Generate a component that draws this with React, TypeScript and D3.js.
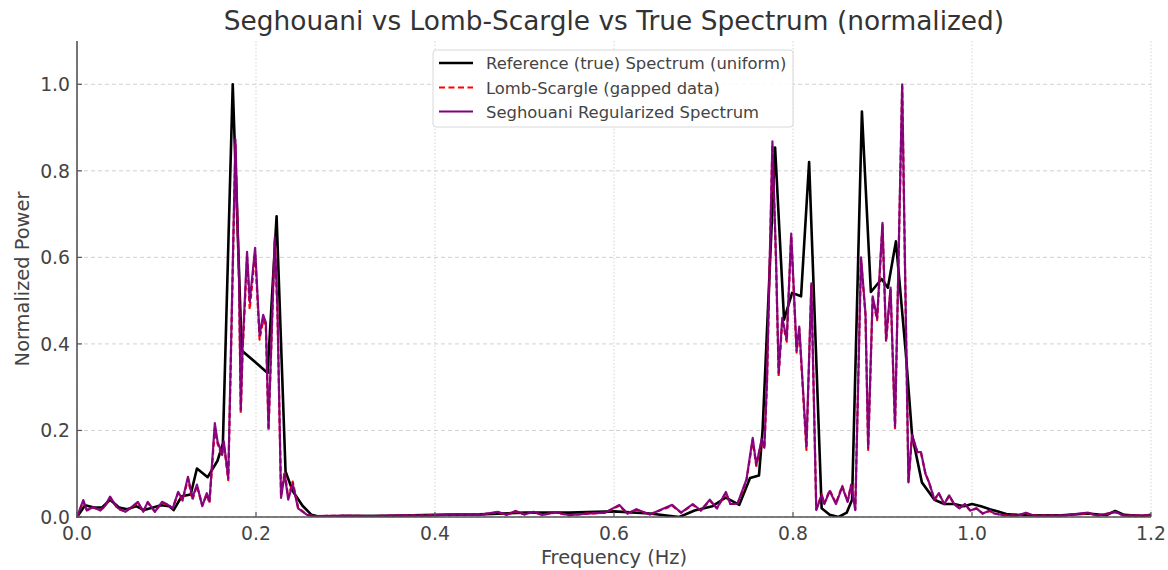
import React from "react";
import * as d3 from "d3";

// ---- data ----
const refFreqs = [0, 0.009, 0.019, 0.028, 0.037, 0.047, 0.056, 0.066, 0.075, 0.085, 0.094, 0.103, 0.108, 0.117, 0.127, 0.134, 0.146, 0.157, 0.163, 0.174, 0.184, 0.213, 0.223, 0.233, 0.241, 0.252, 0.262, 0.272, 0.30, 0.35, 0.40, 0.45, 0.50, 0.55, 0.60, 0.64, 0.673, 0.69, 0.71, 0.725, 0.74, 0.752, 0.762, 0.766, 0.780, 0.790, 0.799, 0.809, 0.818, 0.832, 0.841, 0.851, 0.860, 0.866, 0.877, 0.887, 0.899, 0.906, 0.915, 0.926, 0.933, 0.944, 0.958, 0.969, 0.980, 0.991, 1.000, 1.010, 1.020, 1.030, 1.040, 1.060, 1.080, 1.100, 1.130, 1.150, 1.160, 1.170, 1.190, 1.200];
const refValues = [0, 0.027, 0.022, 0.022, 0.040, 0.022, 0.018, 0.025, 0.016, 0.022, 0.027, 0.025, 0.016, 0.048, 0.052, 0.112, 0.092, 0.130, 0.170, 1.000, 0.385, 0.333, 0.695, 0.105, 0.060, 0.026, 0.005, 0.000, 0.002, 0.003, 0.005, 0.006, 0.010, 0.010, 0.013, 0.008, 0.000, 0.015, 0.025, 0.045, 0.028, 0.090, 0.096, 0.200, 0.854, 0.456, 0.518, 0.510, 0.820, 0.020, 0.005, 0.000, 0.010, 0.040, 0.937, 0.520, 0.550, 0.530, 0.637, 0.380, 0.190, 0.080, 0.040, 0.030, 0.030, 0.025, 0.030, 0.025, 0.018, 0.012, 0.006, 0.004, 0.004, 0.004, 0.008, 0.004, 0.014, 0.005, 0.002, 0.005];

const segFreqs = [0, 0.007, 0.011, 0.018, 0.026, 0.031, 0.037, 0.042, 0.046, 0.054, 0.061, 0.068, 0.074, 0.079, 0.087, 0.095, 0.100, 0.107, 0.113, 0.118, 0.124, 0.129, 0.134, 0.140, 0.145, 0.148, 0.154, 0.157, 0.162, 0.164, 0.169, 0.173, 0.177, 0.181, 0.183, 0.185, 0.190, 0.193, 0.199, 0.204, 0.208, 0.211, 0.214, 0.221, 0.224, 0.228, 0.232, 0.236, 0.241, 0.247, 0.257, 0.265, 0.30, 0.33, 0.36, 0.39, 0.42, 0.45, 0.47, 0.48, 0.49, 0.50, 0.51, 0.52, 0.535, 0.55, 0.57, 0.59, 0.606, 0.615, 0.625, 0.64, 0.665, 0.675, 0.688, 0.697, 0.707, 0.715, 0.725, 0.73, 0.738, 0.748, 0.755, 0.759, 0.765, 0.768, 0.771, 0.777, 0.781, 0.784, 0.788, 0.793, 0.798, 0.804, 0.807, 0.815, 0.8205, 0.826, 0.832, 0.835, 0.841, 0.848, 0.855, 0.861, 0.865, 0.8696, 0.876, 0.881, 0.884, 0.889, 0.894, 0.900, 0.904, 0.909, 0.914, 0.922, 0.925, 0.929, 0.933, 0.939, 0.943, 0.948, 0.952, 0.958, 0.963, 0.969, 0.9745, 0.980, 0.986, 0.992, 0.998, 1.005, 1.012, 1.020, 1.025, 1.035, 1.05, 1.06, 1.07, 1.10, 1.13, 1.14, 1.16, 1.17, 1.20];
const segValues = [0, 0.039, 0.015, 0.023, 0.015, 0.025, 0.047, 0.030, 0.020, 0.012, 0.023, 0.035, 0.012, 0.035, 0.012, 0.035, 0.030, 0.020, 0.058, 0.040, 0.093, 0.044, 0.075, 0.025, 0.055, 0.036, 0.217, 0.175, 0.145, 0.175, 0.090, 0.480, 0.873, 0.560, 0.248, 0.390, 0.613, 0.497, 0.622, 0.420, 0.467, 0.450, 0.206, 0.646, 0.480, 0.044, 0.100, 0.040, 0.077, 0.020, 0.005, 0.002, 0.003, 0.002, 0.004, 0.003, 0.006, 0.005, 0.012, 0.005, 0.014, 0.006, 0.012, 0.005, 0.011, 0.004, 0.008, 0.010, 0.028, 0.008, 0.018, 0.006, 0.028, 0.010, 0.030, 0.015, 0.040, 0.020, 0.058, 0.030, 0.031, 0.087, 0.183, 0.120, 0.180, 0.160, 0.320, 0.868, 0.600, 0.333, 0.460, 0.410, 0.655, 0.385, 0.440, 0.163, 0.540, 0.016, 0.050, 0.030, 0.060, 0.030, 0.070, 0.035, 0.074, 0.016, 0.600, 0.470, 0.160, 0.510, 0.460, 0.680, 0.410, 0.530, 0.210, 1.000, 0.600, 0.080, 0.190, 0.150, 0.150, 0.100, 0.080, 0.040, 0.055, 0.030, 0.050, 0.030, 0.020, 0.030, 0.015, 0.020, 0.008, 0.015, 0.008, 0.004, 0.003, 0.010, 0.003, 0.003, 0.010, 0.003, 0.012, 0.003, 0.004];
const lombValues = [0, 0.036, 0.016, 0.022, 0.016, 0.024, 0.045, 0.029, 0.018, 0.013, 0.022, 0.033, 0.013, 0.033, 0.013, 0.033, 0.029, 0.021, 0.055, 0.038, 0.088, 0.040, 0.072, 0.027, 0.052, 0.032, 0.205, 0.170, 0.140, 0.170, 0.085, 0.470, 0.860, 0.550, 0.240, 0.380, 0.600, 0.480, 0.610, 0.410, 0.455, 0.440, 0.200, 0.640, 0.470, 0.048, 0.105, 0.045, 0.082, 0.022, 0.005, 0.002, 0.003, 0.002, 0.004, 0.003, 0.006, 0.005, 0.011, 0.005, 0.013, 0.006, 0.011, 0.005, 0.010, 0.004, 0.008, 0.010, 0.026, 0.008, 0.017, 0.006, 0.026, 0.010, 0.028, 0.015, 0.038, 0.020, 0.055, 0.030, 0.030, 0.084, 0.178, 0.118, 0.176, 0.158, 0.315, 0.860, 0.590, 0.325, 0.455, 0.405, 0.650, 0.380, 0.435, 0.155, 0.535, 0.018, 0.052, 0.032, 0.062, 0.032, 0.072, 0.036, 0.075, 0.018, 0.595, 0.465, 0.155, 0.505, 0.455, 0.675, 0.405, 0.525, 0.205, 0.995, 0.595, 0.082, 0.188, 0.150, 0.148, 0.100, 0.080, 0.040, 0.054, 0.030, 0.049, 0.030, 0.020, 0.029, 0.015, 0.020, 0.008, 0.014, 0.008, 0.004, 0.003, 0.009, 0.003, 0.003, 0.009, 0.003, 0.011, 0.003, 0.004];

const xTicks = [0, 0.2, 0.4, 0.6, 0.8, 1.0, 1.2];
const yTicks = [0, 0.2, 0.4, 0.6, 0.8, 1.0];

const legendLabels = [
  "Reference (true) Spectrum (uniform)",
  "Lomb-Scargle (gapped data)",
  "Seghouani Regularized Spectrum",
];

const W = 1168;
const H = 570;
const margin = { left: 77, right: 17, top: 41, bottom: 53 };
const FONT = "DejaVu Sans, Verdana, sans-serif";

export default function App() {
  const x = d3.scaleLinear().domain([0, 1.2]).range([margin.left, W - margin.right]);
  const y = d3.scaleLinear().domain([0, 1.1]).range([H - margin.bottom, margin.top]);

  const line = d3
    .line<[number, number]>()
    .x((d) => x(d[0]))
    .y((d) => y(d[1]));

  const refPts = refFreqs.map((f, i) => [f, refValues[i]] as [number, number]);
  const segPts = segFreqs.map((f, i) => [f, segValues[i]] as [number, number]);
  const lombPts = segFreqs.map((f, i) => [f, lombValues[i]] as [number, number]);

  const x0 = x(0);
  const x1 = x(1.2);
  const y0 = y(0);
  const yTop = y(1.1);

  const legendX = 433;
  const legendY = 50;
  const legendW = 360;
  const legendH = 77;
  const rowY = [63, 87.5, 111.5];
  const colors = ["#000000", "#ff0000", "#800080"];

  return (
    <svg
      width={W}
      height={H}
      style={{ position: "absolute", left: 0, top: 0, background: "#fff" }}
      fontFamily={FONT}
    >
      <rect x={0} y={0} width={W} height={H} fill="#fff" />
      <defs>
        <clipPath id="plot">
          <rect x={x0} y={yTop} width={x1 - x0 + 2} height={y0 - yTop} />
        </clipPath>
      </defs>
      {/* grid */}
      {xTicks.map((t) => (
        <line
          key={"gx" + t}
          x1={x(t)}
          x2={x(t)}
          y1={yTop}
          y2={y0}
          stroke="#d0d0d0"
          strokeWidth={0.9}
          strokeDasharray="1.5,2"
        />
      ))}
      {yTicks.map((t) => (
        <line
          key={"gy" + t}
          x1={x0}
          x2={x1}
          y1={y(t)}
          y2={y(t)}
          stroke="#cccccc"
          strokeWidth={0.9}
          strokeDasharray="4,3"
        />
      ))}
      {/* series */}
      <g clipPath="url(#plot)">
        <path d={line(refPts) || ""} fill="none" stroke="#000" strokeWidth={2.6} strokeLinejoin="round" />
        <path
          d={line(lombPts) || ""}
          fill="none"
          stroke="#ff0000"
          strokeWidth={2.2}
          strokeDasharray="5,3"
          strokeLinejoin="round"
        />
        <path d={line(segPts) || ""} fill="none" stroke="#800080" strokeWidth={2.2} strokeLinejoin="round" opacity={0.95} />
      </g>
      {/* spines */}
      <line x1={x0} x2={x0} y1={yTop} y2={y0 + 1} stroke="#555" strokeWidth={1.6} />
      <line x1={x0 - 1} x2={x1} y1={y0} y2={y0} stroke="#555" strokeWidth={1.6} />
      {/* ticks (inward) */}
      {yTicks.map((t) => (
        <line key={"ytk" + t} x1={x0} x2={x0 + 5} y1={y(t)} y2={y(t)} stroke="#555" strokeWidth={1.2} />
      ))}
      {xTicks.map((t) => (
        <line key={"xtk" + t} x1={x(t)} x2={x(t)} y1={y0} y2={y0 - 5} stroke="#555" strokeWidth={1.2} />
      ))}
      {/* tick labels */}
      {xTicks.map((t) => (
        <text
          key={"xt" + t}
          x={x(t)}
          y={y0 + 23}
          textAnchor="middle"
          fontSize={18.8}
          fill="#444"
        >
          {t.toFixed(1)}
        </text>
      ))}
      {yTicks.map((t) => (
        <text
          key={"yt" + t}
          x={x0 - 7}
          y={y(t) + 7}
          textAnchor="end"
          fontSize={18.8}
          fill="#444"
        >
          {t.toFixed(1)}
        </text>
      ))}
      {/* axis labels */}
      <text x={(x0 + x1) / 2} y={564} textAnchor="middle" fontSize={19.4} fill="#444">
        Frequency (Hz)
      </text>
      <text
        transform={`translate(29, ${(y0 + yTop) / 2}) rotate(-90)`}
        textAnchor="middle"
        fontSize={19.4}
        fill="#444"
      >
        Normalized Power
      </text>
      {/* title */}
      <text x={(x0 + x1) / 2} y={30} textAnchor="middle" fontSize={26.4} fill="#333">
        Seghouani vs Lomb-Scargle vs True Spectrum (normalized)
      </text>
      {/* legend */}
      <rect
        x={legendX}
        y={legendY}
        width={legendW}
        height={legendH}
        rx={3}
        fill="#fff"
        fillOpacity={0.85}
        stroke="#d8d8d8"
        strokeWidth={1}
      />
      {legendLabels.map((lab, i) => (
        <g key={lab}>
          <line
            x1={legendX + 6}
            x2={legendX + 40}
            y1={rowY[i]}
            y2={rowY[i]}
            stroke={colors[i]}
            strokeWidth={i === 0 ? 2.6 : 2.2}
            strokeDasharray={i === 1 ? "6,3.5" : undefined}
          />
          <text x={legendX + 53} y={rowY[i] + 6} fontSize={16.4} fill="#444">
            {lab}
          </text>
        </g>
      ))}
    </svg>
  );
}
